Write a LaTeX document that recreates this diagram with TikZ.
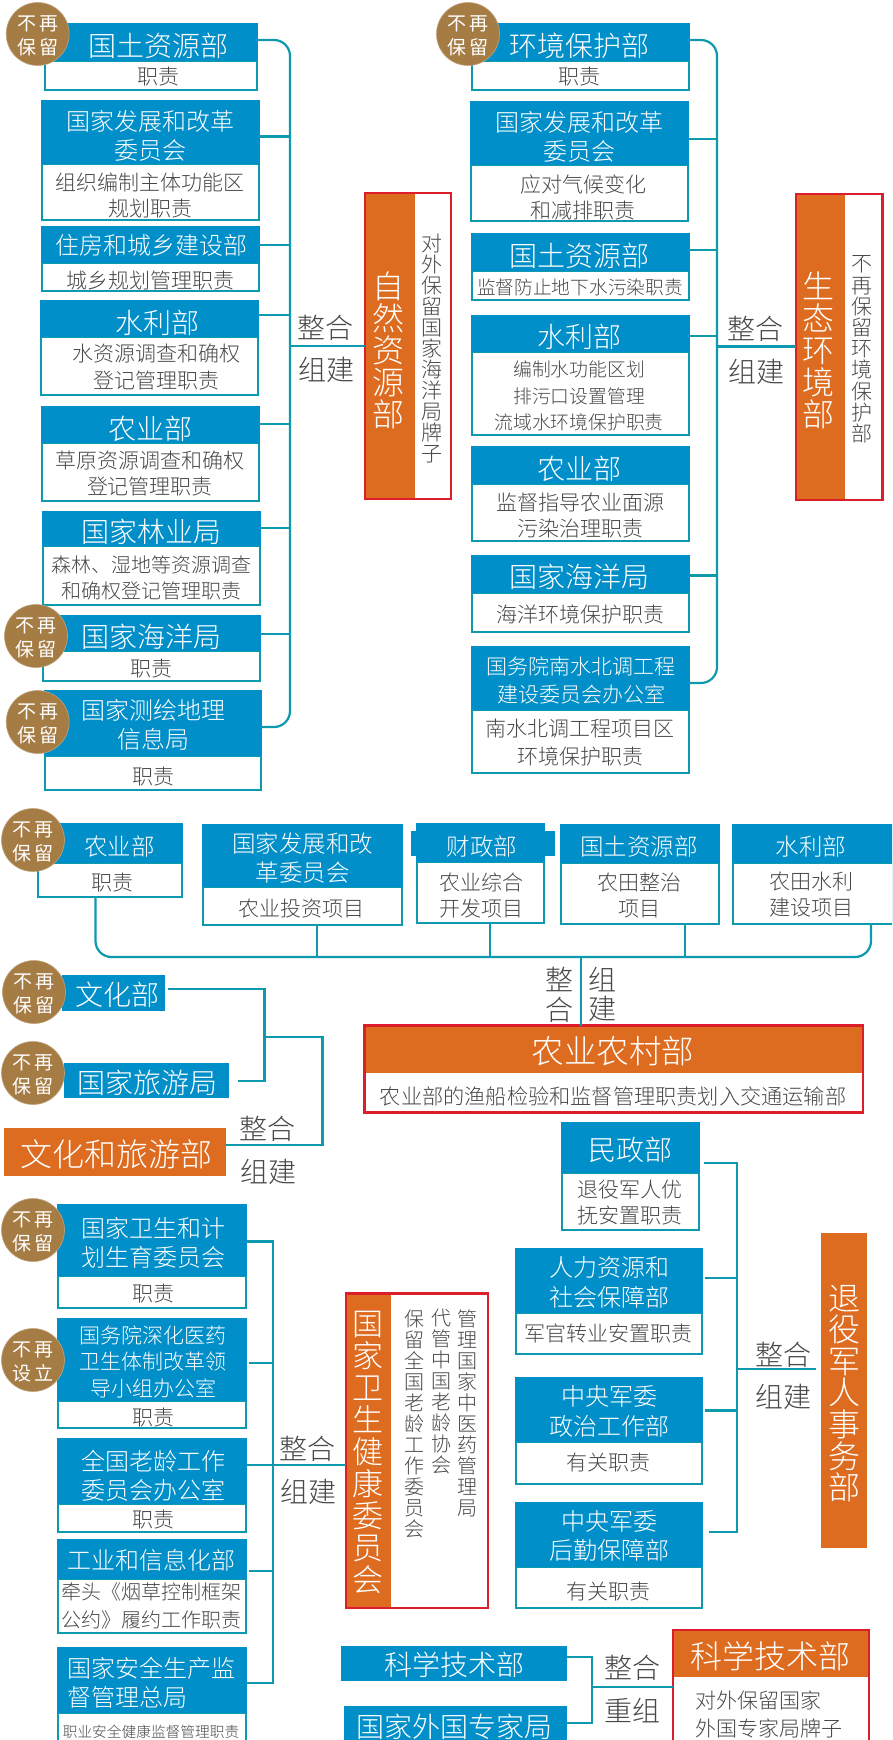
\documentclass[tikz,border=0pt]{standalone}
\usepackage{fontspec}
\setmainfont{Noto Sans CJK SC}[UprightFont=* Light]
\newfontfamily\badgefont{Noto Sans CJK SC}
\definecolor{hdblue}{HTML}{008FC9}
\definecolor{lnkteal}{HTML}{0E9AAE}
\definecolor{orgfill}{HTML}{DE6C20}
\definecolor{brownb}{HTML}{A67C45}
\definecolor{redb}{HTML}{DC1E2A}
\definecolor{txtgray}{HTML}{484848}
\newcommand\fs[2]{\fontsize{#1}{#2}\selectfont}
\tikzset{
  lnk/.style={draw=lnkteal,line width=2.2pt},
  curve/.style={lnk,rounded corners=16pt},
  hd/.style={fill=hdblue},
  bd/.style={draw=lnkteal,line width=2pt,fill=white},
  ora/.style={fill=orgfill},
  redbox/.style={draw=redb,line width=2.4pt,fill=white},
  wt/.style={text=white,inner sep=0,outer sep=0,align=center,yshift=-1.5pt},
  gt/.style={text=txtgray,inner sep=0,outer sep=0,align=center,yshift=-1.5pt},
  badge/.style={circle,fill=brownb,draw=brownb!70!white,line width=.6pt,minimum size=63pt,inner sep=0},
  badgetxt/.style={inner sep=0,text=white,align=center,font=\badgefont\fs{19}{23.5},yshift=-2pt},
}
% rectangle node from corner values
\newcommand\rect[6]{\pgfmathsetmacro\rw{(#4)-(#2)}\pgfmathsetmacro\rh{(#5)-(#3)}%
  \node[inner sep=0,outer sep=0,minimum width=\rw pt,minimum height=\rh pt,#6] (#1) at ({((#2)+(#4))/2},{((#3)+(#5))/2}) {};}
% organ: name x0 x1 ytop ymid ybot
\newcommand\org[6]{\rect{#1-d}{#2+1}{#5}{#3-1}{#6-1}{bd}\rect{#1-t}{#2}{#4}{#3}{#5}{hd}}
% text nodes: name x y size leading text
\newcommand\ttl[6]{\node[wt,font=\fs{#4}{#5}] (#1-tt) at (#2,#3) {#6};}
\newcommand\dsc[6]{\node[gt,font=\fs{#4}{#5}] (#1-dt) at (#2,#3) {#6};}
\newcommand\br[3]{\draw[lnk] (#1.east |- 0,#2) -- (#3 |- 0,#2);}
\newcommand\bdg[4]{\node[badge] (#1) at (#2,#3) {};\node[badgetxt] (#1-t) at (#1) {#4};}
\begin{document}
\begin{tikzpicture}[x=1pt,y=-1pt]
\useasboundingbox (0,0) rectangle (892,1740);
\clip (0,0) rectangle (892,1740);
\coordinate (j1) at (290,346);
\coordinate (j2) at (717,346.5);
\coordinate (j3) at (581,957);
\coordinate (j4) at (264.5,1037);
\coordinate (j5) at (273,1465);
\coordinate (j6) at (736.7,1369);
\coordinate (j7) at (592,1687);
% ---------- natural resources column
\org{a1}{44}{258}{23}{61}{91}
\ttl{a1}{158}{44}{28}{30}{国土资源部}\dsc{a1}{158}{75}{21}{26}{职责}
\org{a2}{41}{260}{100}{164}{221}
\ttl{a2}{150}{134.5}{24}{29}{国家发展和改革\\委员会}\dsc{a2}{150}{194}{21}{26}{组织编制主体功能区\\规划职责}
\org{a3}{41}{260}{226}{263}{292}
\ttl{a3}{151}{244}{24}{29}{住房和城乡建设部}\dsc{a3}{150}{279}{21}{26}{城乡规划管理职责}
\org{a4}{40}{259}{300}{337}{396}
\ttl{a4}{157}{321}{28}{30}{水利部}\dsc{a4}{156}{365.5}{21}{27}{水资源调查和确权\\登记管理职责}
\org{a5}{41}{260}{406}{443}{502}
\ttl{a5}{150}{427}{28}{30}{农业部}\dsc{a5}{150}{472}{21}{26}{草原资源调查和确权\\登记管理职责}
\org{a6}{42}{261}{511}{546}{606}
\ttl{a6}{151}{530}{28}{30}{国家林业局}\dsc{a6}{151}{576}{20}{26}{森林、湿地等资源调查\\和确权登记管理职责}
\org{a7}{42}{261}{615}{651}{682}
\ttl{a7}{151}{635}{28}{30}{国家海洋局}\dsc{a7}{151}{667}{21}{26}{职责}
\org{a8}{44}{262}{690}{756}{791}
\ttl{a8}{153}{723.5}{24}{29}{国家测绘地理\\信息局}\dsc{a8}{153}{775}{21}{26}{职责}
\rect{za}{365}{193}{451}{499}{redbox}
\rect{zao}{366}{194}{415}{498}{ora}
\node[wt,font=\fs{32}{32}] (zat) at (388,349) {自\\然\\资\\源\\部};
\node[gt,font=\fs{21}{21}] (zas) at (432,347.5) {对\\外\\保\\留\\国\\家\\海\\洋\\局\\牌\\子};
\draw[curve] (a1-t.east |- 0,40) -| (j1) |- (a8-t.east |- 0,727);
\br{a2-t}{136.5}{j1}\br{a3-t}{245}{j1}\br{a4-t}{315}{j1}\br{a5-t}{424}{j1}\br{a6-t}{528}{j1}\br{a7-t}{634}{j1}
\draw[lnk] (j1) -- (za.west |- j1);
\node[gt,font=\fs{28}{30}] (la1) at (325,326) {整合};
\node[gt,font=\fs{28}{30}] (la2) at (326,368) {组建};
% ---------- environment column
\org{b1}{471}{690}{23}{61}{91}
\ttl{b1}{579}{44}{28}{30}{环境保护部}\dsc{b1}{579}{75}{21}{26}{职责}
\org{b2}{470}{689}{101}{165}{222}
\ttl{b2}{579}{135.5}{24}{29}{国家发展和改革\\委员会}\dsc{b2}{583}{196}{21}{26}{应对气候变化\\和减排职责}
\org{b3}{471}{690}{233}{271}{301}
\ttl{b3}{579}{254}{28}{30}{国土资源部}\dsc{b3}{580}{286}{18.7}{26}{监督防止地下水污染职责}
\org{b4}{471}{690}{315}{352}{436}
\ttl{b4}{579}{335}{28}{30}{水利部}\dsc{b4}{579}{394.5}{18.8}{26.5}{编制水功能区划\\排污口设置管理\\流域水环境保护职责}
\org{b5}{471}{690}{446}{484}{542}
\ttl{b5}{579}{467}{28}{30}{农业部}\dsc{b5}{580}{514}{21}{26}{监督指导农业面源\\污染治理职责}
\org{b6}{471}{690}{555}{593}{633}
\ttl{b6}{579}{575}{28}{30}{国家海洋局}\dsc{b6}{580}{613}{21}{26}{海洋环境保护职责}
\org{b7}{471}{690}{646}{710}{774}
\ttl{b7}{581}{679}{21}{28.5}{国务院南水北调工程\\建设委员会办公室}\dsc{b7}{580}{741}{21}{28}{南水北调工程项目区\\环境保护职责}
\rect{zb}{796}{194}{882.5}{500}{redbox}
\rect{zbo}{797}{195}{845}{499}{ora}
\node[wt,font=\fs{32}{32}] (zbt) at (818,349) {生\\态\\环\\境\\部};
\node[gt,font=\fs{21}{21.2}] (zbs) at (862,348) {不\\再\\保\\留\\环\\境\\保\\护\\部};
\draw[curve] (b1-t.east |- 0,40) -| (j2) |- (b7-t.east |- 0,683);
\br{b2-t}{139}{j2}\br{b3-t}{250}{j2}\br{b4-t}{336}{j2}
\br{b6-t}{575.5}{j2}
\draw[lnk] (j2) -- (zb.west |- j2);
\node[gt,font=\fs{28}{30}] (lb1) at (755,327) {整合};
\node[gt,font=\fs{28}{30}] (lb2) at (756,370) {组建};
% ---------- agriculture
\org{c1}{37}{183}{823}{863}{898}
\ttl{c1}{119.5}{845}{23.5}{28}{农业部}\dsc{c1}{112}{881}{21}{26}{职责}
\org{c2}{202}{403}{824}{887}{926}
\ttl{c2}{302.6}{856.5}{23.5}{29}{国家发展和改\\革委员会}\dsc{c2}{301}{907}{21}{26}{农业投资项目}
\rect{c3x}{411}{831}{555}{856}{hd}
\org{c3}{416}{545}{823}{862}{924}
\ttl{c3}{482}{845}{23.5}{28}{财政部}\dsc{c3}{481}{894}{21}{26}{农业综合\\开发项目}
\org{c4}{560}{720}{824}{863}{925}
\ttl{c4}{639}{845}{23.5}{28}{国土资源部}\dsc{c4}{639}{894}{21}{26}{农田整治\\项目}
\org{c5}{731.5}{894}{824}{863}{925}
\ttl{c5}{811}{845}{23.5}{28}{水利部}\dsc{c5}{811}{893}{21}{26}{农田水利\\建设项目}
\draw[curve] (c1-d.south -| 95.5,0) |- (j3) -| (c5-d.south -| 871,0);
\draw[lnk] (c2-d.south -| 317,0) -- (317,957);
\draw[lnk] (c3-d.south -| 490,0) -- (490,957);
\draw[lnk] (c4-d.south -| 685,0) -- (685,957);
\rect{zc}{364.5}{1025.5}{863}{1112.5}{redbox}
\rect{zco}{365.5}{1026.5}{862}{1073}{ora}
\node[wt,font=\fs{32.5}{34}] (zct) at (613,1050) {农业农村部};
\node[gt,font=\fs{21.2}{26}] (zcs) at (613,1095) {农业部的渔船检验和监督管理职责划入交通运输部};
\draw[lnk] (j3) -- (zc.north -| j3);
\node[gt,font=\fs{28}{30}] (lc1) at (559,993) {整\\合};
\node[gt,font=\fs{28}{28.5}] (lc2) at (602,993) {组\\建};
% ---------- culture
\rect{d1}{62}{975}{165}{1011}{hd}
\ttl{d1}{117}{993}{28}{30}{文化部}
\rect{d2}{64}{1063}{229}{1098}{hd}
\ttl{d2}{147}{1081}{28}{30}{国家旅游局}
\rect{zd}{4}{1128}{226}{1176}{ora}
\node[wt,font=\fs{32}{33}] (zdt) at (116.6,1153) {文化和旅游部};
\coordinate (d1e) at (168,989);
\coordinate (d2e) at (238,1081);
\draw[lnk] (d1e) -| (j4) |- (d2e);
\draw[lnk] (j4) -| (322.5,1145) -- (zd.east |- 0,1145);
\node[gt,font=\fs{28}{30}] (ld1) at (267,1127) {整合};
\node[gt,font=\fs{28}{30}] (ld2) at (268,1170) {组建};
% ---------- health
\org{e1}{57}{247}{1204}{1276}{1309}
\ttl{e1}{153}{1241.5}{24}{28.5}{国家卫生和计\\划生育委员会}\dsc{e1}{153}{1292.5}{21}{26}{职责}
\org{e2}{57}{247}{1318}{1401}{1429}
\ttl{e2}{153}{1360}{21}{26.5}{国务院深化医药\\卫生体制改革领\\导小组办公室}\dsc{e2}{153}{1416}{21}{26}{职责}
\org{e3}{57}{247}{1438}{1504}{1532.5}
\ttl{e3}{153}{1474}{24}{28.5}{全国老龄工作\\委员会办公室}\dsc{e3}{153}{1518.5}{21}{26}{职责}
\org{e4}{57}{247}{1539}{1579}{1633.5}
\ttl{e4}{151}{1559}{24}{28}{工业和信息化部}\dsc{e4}{151}{1604.5}{20}{27.5}{牵头《烟草控制框架\\公约》履约工作职责}
\org{e5}{57}{247}{1647}{1713}{1750}
\node[wt,font=\fs{24}{29},align=left] (e5-tt) at (151,1681.5) {国家安全生产监\\督管理总局};
\dsc{e5}{151}{1730}{14.7}{18}{职业安全健康监督管理职责}
\rect{ze}{346}{1293.5}{488}{1608}{redbox}
\rect{zeo}{347}{1294.5}{391}{1607}{ora}
\node[wt,font=\fs{31}{32}] (zet) at (368,1451) {国\\家\\卫\\生\\健\\康\\委\\员\\会};
\node[gt,font=\fs{20}{21},anchor=north] (zes1) at (467,1308) {管\\理\\国\\家\\中\\医\\药\\管\\理\\局};
\node[gt,font=\fs{20}{21},anchor=north] (zes2) at (441,1308) {代\\管\\中\\国\\老\\龄\\协\\会};
\node[gt,font=\fs{20}{21},anchor=north] (zes3) at (414,1308) {保\\留\\全\\国\\老\\龄\\工\\作\\委\\员\\会};
\draw[lnk] (e1-t.east |- 0,1241.5) -| (j5) |- (e5-t.east |- 0,1683);
\coordinate (e2e) at (249,1363);
\coordinate (e4e) at (249,1571);
\draw[lnk] (e2e) -- (j5 |- e2e);
\draw[lnk] (e4e) -- (j5 |- e4e);
\draw[lnk] (e3-t.east |- j5) -- (ze.west |- j5);
\node[gt,font=\fs{28}{30}] (le1) at (307,1447) {整合};
\node[gt,font=\fs{28}{30}] (le2) at (308,1490) {组建};
% ---------- veterans
\org{f1}{561}{700}{1122}{1173}{1230.5}
\ttl{f1}{630}{1148}{28}{30}{民政部}\dsc{f1}{630}{1201}{21}{26.5}{退役军人优\\抚安置职责}
\org{f2}{515}{703}{1248}{1313}{1355}
\ttl{f2}{609}{1281}{24}{30}{人力资源和\\社会保障部}\dsc{f2}{608}{1332}{21}{26}{军官转业安置职责}
\org{f3}{515}{703}{1377}{1441.5}{1484.5}
\ttl{f3}{609}{1409.5}{24}{30}{中央军委\\政治工作部}\dsc{f3}{608}{1461}{21}{26}{有关职责}
\org{f4}{515}{703}{1502}{1567}{1609}
\ttl{f4}{609}{1534.5}{24}{29.5}{中央军委\\后勤保障部}\dsc{f4}{608}{1590}{21}{26}{有关职责}
\rect{zf}{821}{1232.5}{867}{1548}{ora}
\node[wt,font=\fs{32}{31.6}] (zft) at (844,1392) {退\\役\\军\\人\\事\\务\\部};
\coordinate (f1e) at (704,1163);
\coordinate (f2e) at (705,1278);
\coordinate (f3e) at (705,1410.5);
\coordinate (f4e) at (709,1532);
\draw[lnk] (f1e) -| (j6) |- (f4e);
\draw[lnk] (f2e) -- (j6 |- f2e);
\draw[lnk] (f3e) -- (j6 |- f3e);
\draw[lnk] (j6) -- (816,1369);
\node[gt,font=\fs{28}{30}] (lf1) at (783,1353) {整合};
\node[gt,font=\fs{28}{30}] (lf2) at (783,1395) {组建};
% ---------- science
\rect{g1}{341}{1645.5}{567}{1681}{hd}
\ttl{g1}{454}{1663}{28}{30}{科学技术部}
\rect{g2}{344}{1706}{567}{1745}{hd}
\ttl{g2}{454.5}{1725}{28}{30}{国家外国专家局}
\rect{zg}{673}{1630}{869}{1760}{redbox}
\rect{zgo}{674}{1631}{868}{1676.5}{ora}
\node[wt,font=\fs{32}{33}] (zgt) at (770,1654.4) {科学技术部};
\node[gt,font=\fs{21}{28},align=left,anchor=west] (zgs) at (695.7,1713) {对外保留国家\\外国专家局牌子};
\draw[lnk] (g1.east |- 0,1657) -| (j7) |- (g2.east |- 0,1723);
\draw[lnk] (j7) -- (zg.west |- j7);
\node[gt,font=\fs{28}{30}] (lg1) at (632,1666.5) {整合};
\node[gt,font=\fs{28}{30}] (lg2) at (632,1708.6) {重组};
% ---------- badges
\bdg{k1}{37.7}{34}{不\,再\\保\,留}
\bdg{k2}{468}{34}{不\,再\\保\,留}
\bdg{k3}{36}{636}{不\,再\\保\,留}
\bdg{k4}{37.7}{722}{不\,再\\保\,留}
\bdg{k5}{33}{840}{不\,再\\保\,留}
\bdg{k6}{34}{992}{不\,再\\保\,留}
\bdg{k7}{33}{1073}{不\,再\\保\,留}
\bdg{k8}{33}{1230}{不\,再\\保\,留}
\bdg{k9}{33}{1360}{不\,再\\设\,立}
\end{tikzpicture}
\end{document}
